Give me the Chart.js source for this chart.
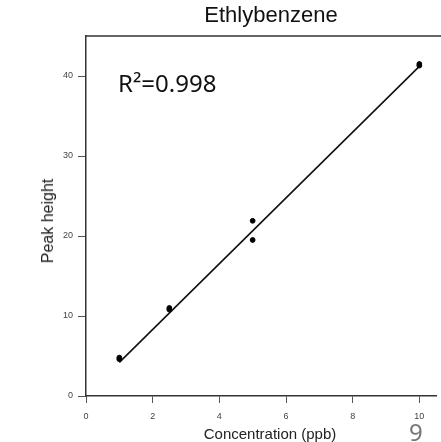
<!DOCTYPE html>
<html>
<head>
<meta charset="utf-8">
<script src="https://cdn.jsdelivr.net/npm/chart.js@4"></script>
<style>
  html, body { margin: 0; padding: 0; background: #fff; }
  #wrap { position: relative; width: 441px; height: 442px; overflow: hidden; }
  .lbl { position: absolute; white-space: nowrap; line-height: 1; transform: translate(-50%, -50%); }
  #title { left: 271px; top: 15px; font: 22px "Liberation Sans"; color: #111; }
  #xtitle { left: 270px; top: 433px; font: 15px "Liberation Sans"; color: #222; }
  #ytitle { left: 48px; top: 221px; font: 16px "Liberation Sans"; color: #222; transform: translate(-50%, -50%) rotate(-90deg); }
  #r2 { left: 118px; top: 82px; font: 24px "Noto Sans"; color: #111; transform: translate(0, -50%); }
  #panel { left: 409px; top: 431px; font: 24px "Noto Sans"; color: #777; transform: translate(0, -50%); }
</style>
</head>
<body>
<div id="wrap">
  <canvas id="c" width="441" height="442"></canvas>
  <div class="lbl" id="title"></div>
  <div class="lbl" id="xtitle"></div>
  <div class="lbl" id="ytitle"></div>
  <div class="lbl" id="r2"></div>
  <div class="lbl" id="panel"></div>
</div>
<script>
// measured points (concentration, peak height)
const concentrations = [1, 1, 2.5, 2.5, 5, 5, 10, 10];
const peakHeights = [4.8, 4.6, 10.8, 11.0, 21.9, 19.5, 41.5, 41.3];
// regression line end points
const fitX = [1, 10];
const fitY = [4.2, 41.2];
const xTicks = [0, 2, 4, 6, 8, 10];
const yTicks = [0, 10, 20, 30, 40];
const chartTitle = 'Ethlybenzene';
const xTitle = 'Concentration (ppb)';
const yTitle = 'Peak height';
const r2Label = 'R\u00b2=0.998';
const panelLabel = '9';

document.getElementById('title').textContent = chartTitle;
document.getElementById('xtitle').textContent = xTitle;
document.getElementById('ytitle').textContent = yTitle;
document.getElementById('r2').textContent = r2Label;
document.getElementById('panel').textContent = panelLabel;

const tickFont = { family: 'Liberation Sans', size: 9 };

// top edge of the frame
const frameTop = {
  id: 'frameTop',
  afterDraw(chart) {
    const { ctx, chartArea: a } = chart;
    ctx.save();
    ctx.strokeStyle = '#333';
    ctx.lineWidth = 1.5;
    ctx.beginPath();
    ctx.moveTo(a.left, a.top);
    ctx.lineTo(chart.width, a.top);
    ctx.stroke();
    ctx.restore();
  }
};

new Chart(document.getElementById('c'), {
  type: 'scatter',
  data: {
    datasets: [
      {
        data: concentrations.map((x, i) => ({ x, y: peakHeights[i] })),
        backgroundColor: '#000',
        borderColor: '#000',
        pointRadius: 2.4
      },
      {
        type: 'line',
        data: fitX.map((x, i) => ({ x, y: fitY[i] })),
        borderColor: '#111',
        borderWidth: 1.6,
        pointRadius: 0,
        fill: false
      }
    ]
  },
  options: {
    responsive: false,
    animation: false,
    layout: { padding: { left: 0, right: 0, top: 36, bottom: 0 } },
    plugins: {
      legend: { display: false },
      tooltip: { enabled: false },
      title: { display: false }
    },
    scales: {
      x: {
        type: 'linear',
        min: 0,
        max: 10.5,
        afterBuildTicks: s => { s.ticks = xTicks.map(v => ({ value: v })); },
        afterFit: s => { s.height = 46; },
        ticks: { font: tickFont, color: '#444', padding: 8, maxRotation: 0 },
        grid: { drawOnChartArea: false, tickLength: 7, color: '#555', tickWidth: 1 },
        border: { display: true, color: '#333', width: 1.5 }
      },
      y: {
        min: 0,
        max: 45,
        afterBuildTicks: s => { s.ticks = yTicks.map(v => ({ value: v })); },
        afterFit: s => { s.width = 86; },
        ticks: { font: tickFont, color: '#444', padding: 5 },
        grid: { drawOnChartArea: false, tickLength: 8, color: '#555', tickWidth: 1 },
        border: { display: true, color: '#333', width: 1.5 }
      }
    }
  },
  plugins: [frameTop]
});
</script>
</body>
</html>
